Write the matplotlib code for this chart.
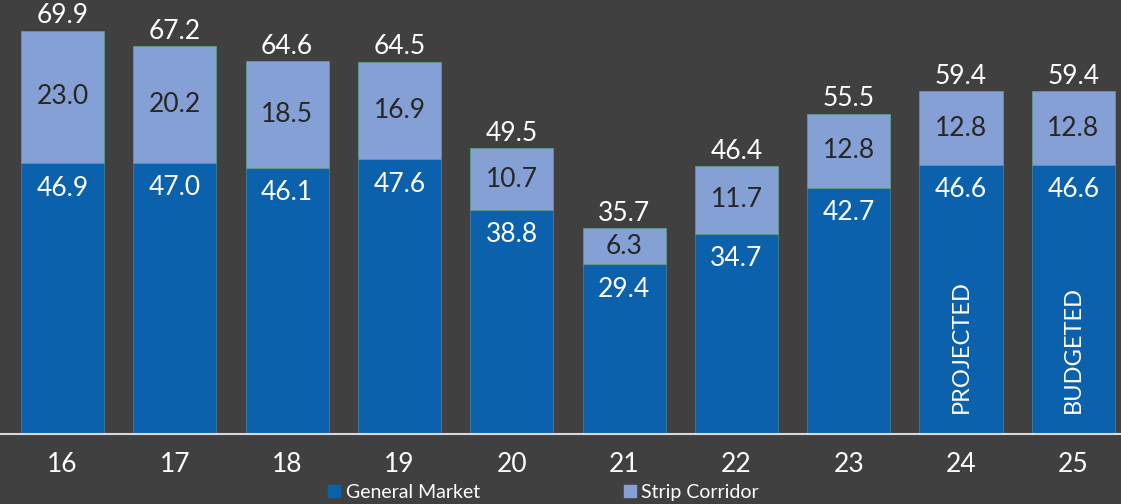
import matplotlib.pyplot as plt
import numpy as np
from matplotlib.patches import Patch

years = ['16', '17', '18', '19', '20', '21', '22', '23', '24', '25']
general_market = [46.9, 47.0, 46.1, 47.6, 38.8, 29.4, 34.7, 42.7, 46.6, 46.6]
strip_corridor = [23.0, 20.2, 18.5, 16.9, 10.7, 6.3, 11.7, 12.8, 12.8, 12.8]
totals = [69.9, 67.2, 64.6, 64.5, 49.5, 35.7, 46.4, 55.5, 59.4, 59.4]
notes = {8: 'PROJECTED', 9: 'BUDGETED'}

bg = '#404040'
blue = '#0c61ad'
light = '#85a0d4'

plt.rcParams['font.family'] = ['Lato', 'DejaVu Sans']

fig = plt.figure(figsize=(11.21, 5.04), dpi=100, facecolor=bg)
ax = fig.add_axes([0, 0.139, 1, 0.861], facecolor=bg)

x = np.arange(len(years))
w = 0.74
gm = ax.bar(x, general_market, w, color=blue, edgecolor='#3f7f96', linewidth=0.6)
sc = ax.bar(x, strip_corridor, w, bottom=general_market, color=light,
            edgecolor='#5f9a8a', linewidth=0.6)

for i in range(len(years)):
    g = general_market[i]
    s = strip_corridor[i]
    ax.text(x[i], g - 4.3, f'{g:.1f}', ha='center', va='center', color='white', fontsize=19)
    ax.text(x[i], g + s / 2, f'{s:.1f}', ha='center', va='center', color='#262626', fontsize=19)
    ax.text(x[i], totals[i] + 0.4, f'{totals[i]:.1f}', ha='center', va='bottom', color='white', fontsize=19)
    if i in notes:
        ax.text(x[i], 3.6, notes[i], ha='center', va='bottom', rotation=90,
                color='white', fontsize=17)

ax.set_xlim(-0.556, 9.424)
ax.set_ylim(0, 75.2)
ax.set_xticks(x)
ax.set_xticklabels(years, color='white', fontsize=19)
ax.tick_params(axis='x', length=0, pad=13)
ax.set_yticks([])
for side in ['top', 'right', 'left']:
    ax.spines[side].set_visible(False)
ax.spines['bottom'].set_color('#d9d9d9')
ax.spines['bottom'].set_linewidth(1.5)

handles = [Patch(color=blue, label='General Market'), Patch(color=light, label='Strip Corridor')]
fig.legend(handles=handles, loc='center', bbox_to_anchor=(0.485, 0.023), ncol=2, frameon=False,
           fontsize=14, labelcolor='white', handlelength=0.6, handleheight=0.6,
           handletextpad=0.3, columnspacing=7.4, borderpad=0)

fig.savefig('out.png', dpi=100, facecolor=bg)
